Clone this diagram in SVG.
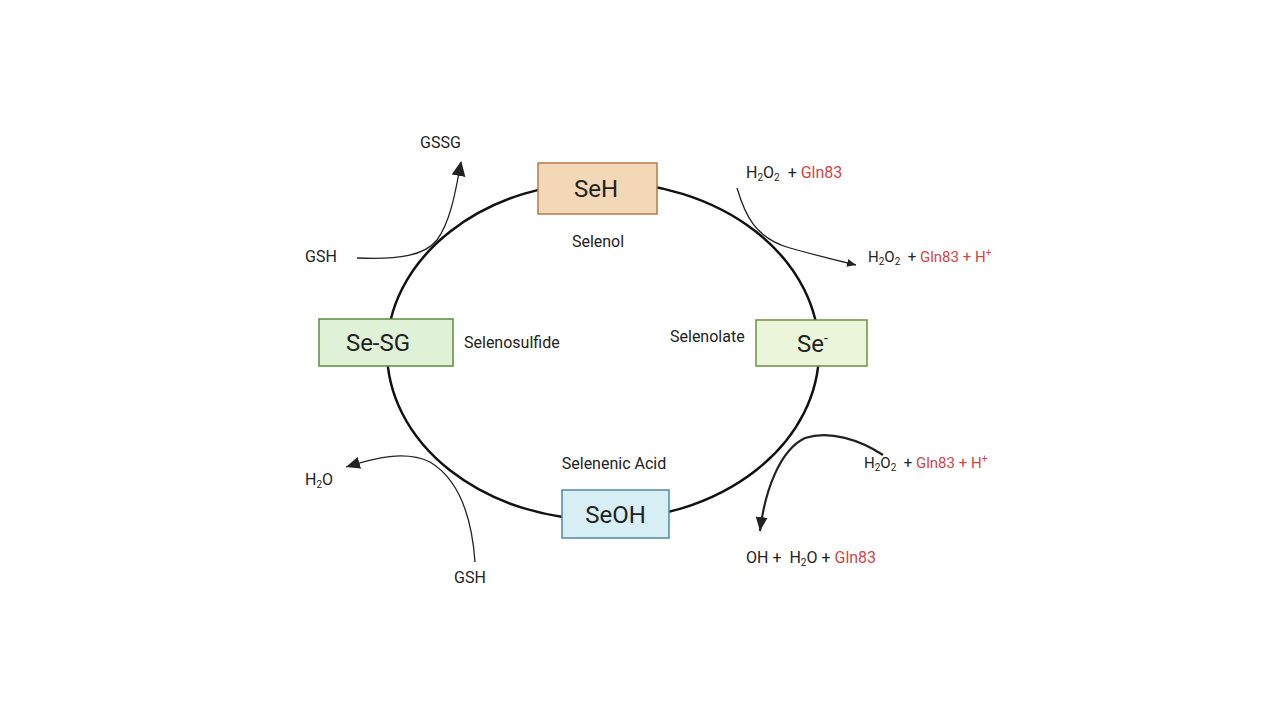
<svg xmlns="http://www.w3.org/2000/svg" width="1280" height="720" viewBox="0 0 1280 720">
<style>
.t{font-family:Roboto,"Liberation Sans",sans-serif;fill:#222;white-space:pre}
.s{font-size:16px}
.m{font-size:15px}
.b{font-size:24px}
.r{fill:#cf4646}
.sub{font-size:10px}
.conn{fill:none;stroke:#222}
</style>
<defs>
<marker id="aBig" markerUnits="userSpaceOnUse" markerWidth="16" markerHeight="16" refX="14" refY="7" orient="auto"><path d="M0,0 L15,7 L0,14 Z" fill="#222"/></marker>
<marker id="aSmall" markerUnits="userSpaceOnUse" markerWidth="10" markerHeight="10" refX="9" refY="4" orient="auto"><path d="M0,0 L9,4 L0,8 Z" fill="#222"/></marker>
<marker id="aMid" markerUnits="userSpaceOnUse" markerWidth="16" markerHeight="14" refX="14" refY="6" orient="auto"><path d="M0,0 L14,6 L0,12 Z" fill="#222"/></marker>
</defs>
<rect width="1280" height="720" fill="#fff"/>
<g id="connectors">
<ellipse cx="603" cy="351" rx="216" ry="169" fill="none" stroke="#111" stroke-width="2.5"/>
<path class="conn" stroke-width="1.3" d="M357,258 C400,260 425,255 437,240 C450,222 455,195 461,162" marker-end="url(#aBig)"/>
<path class="conn" stroke-width="1.3" d="M737,188 C745,215 755,238 790,248 C815,255 835,260 856,265" marker-end="url(#aSmall)"/>
<path class="conn" stroke-width="2.2" d="M883,455 C860,440 830,430 805,438 C780,450 765,490 760,531" marker-end="url(#aMid)"/>
<path class="conn" stroke-width="1.3" d="M475,562 C472,520 460,480 430,462 C405,450 375,458 346,467" marker-end="url(#aMid)"/>
</g>
<g id="seh">
<rect x="538" y="163" width="119" height="51" fill="#f2d8b7" stroke="#b5784a" stroke-width="1.5"/>
<text class="t b" x="596" y="197" text-anchor="middle">SeH</text>
<text class="t s" x="598" y="247" text-anchor="middle">Selenol</text>
</g>
<g id="sesg">
<rect x="319" y="319" width="134" height="47" fill="#dff2d8" stroke="#5b8a3c" stroke-width="1.5"/>
<text class="t b" x="378" y="351" text-anchor="middle">Se-SG</text>
<text class="t s" x="464" y="348">Selenosulfide</text>
</g>
<g id="se">
<rect x="756" y="320" width="111" height="46" fill="#ebf5d9" stroke="#6d8e3e" stroke-width="1.5"/>
<text class="t b" x="797" y="352">Se<tspan font-size="14" dy="-9">-</tspan></text>
<text class="t s" x="670" y="342">Selenolate</text>
</g>
<g id="seoh">
<rect x="562" y="490" width="107" height="48" fill="#d8eef5" stroke="#4f8aa2" stroke-width="1.5"/>
<text class="t b" x="615.5" y="523" text-anchor="middle">SeOH</text>
<text class="t s" x="614" y="469" text-anchor="middle">Selenenic Acid</text>
</g>
<g id="labels">
<text class="t s" x="420" y="148">GSSG</text>
<text class="t s" x="305" y="262">GSH</text>
<text class="t s" x="746" y="178">H<tspan class="sub" dy="3">2</tspan><tspan dy="-3">O</tspan><tspan class="sub" dy="3">2</tspan><tspan dy="-3">  + </tspan><tspan class="r">Gln83</tspan></text>
<text class="t m" x="868" y="262">H<tspan class="sub" dy="3">2</tspan><tspan dy="-3">O</tspan><tspan class="sub" dy="3">2</tspan><tspan dy="-3">  + </tspan><tspan class="r">Gln83 + H</tspan><tspan class="r sub" dy="-6">+</tspan></text>
<text class="t m" x="864" y="468">H<tspan class="sub" dy="3">2</tspan><tspan dy="-3">O</tspan><tspan class="sub" dy="3">2</tspan><tspan dy="-3">  + </tspan><tspan class="r">Gln83 + H</tspan><tspan class="r sub" dy="-6">+</tspan></text>
<text class="t s" x="746" y="563">OH +  H<tspan class="sub" dy="3">2</tspan><tspan dy="-3">O + </tspan><tspan class="r">Gln83</tspan></text>
<text class="t s" x="305" y="485">H<tspan class="sub" dy="3">2</tspan><tspan dy="-3">O</tspan></text>
<text class="t s" x="454" y="583">GSH</text>
</g>
</svg>
